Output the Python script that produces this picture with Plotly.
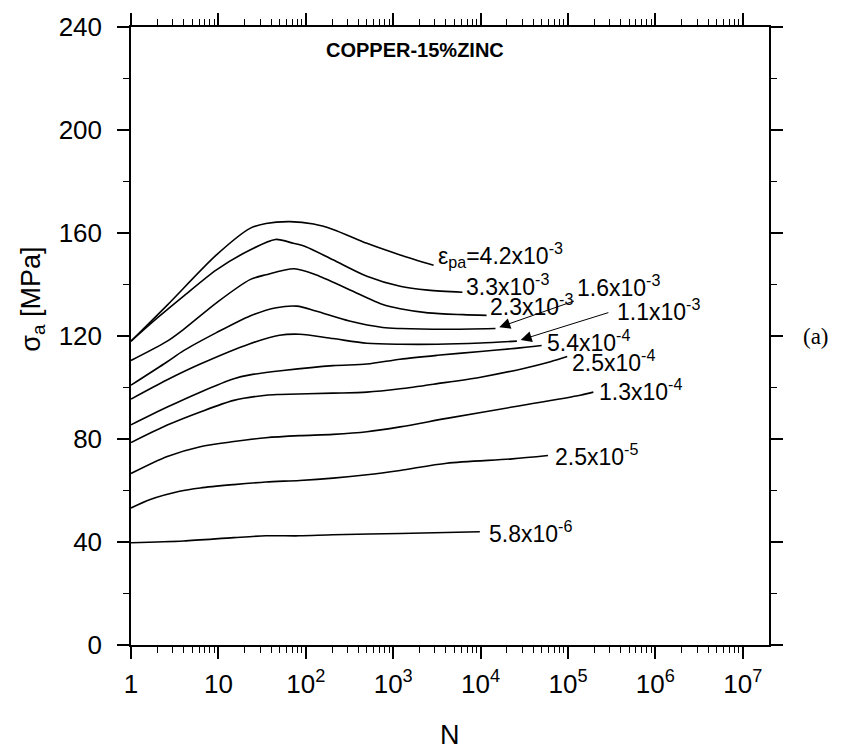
import math
import plotly.graph_objects as go

# Cyclic stress amplitude vs. number of cycles, Cu-15%Zn, one curve per plastic strain amplitude
strain_labels = ["ε<sub>pa</sub>=4.2x10<sup>-3</sup>", "3.3x10<sup>-3</sup>", "2.3x10<sup>-3</sup>",
                 "1.6x10<sup>-3</sup>", "1.1x10<sup>-3</sup>", "5.4x10<sup>-4</sup>",
                 "2.5x10<sup>-4</sup>", "1.3x10<sup>-4</sup>", "2.5x10<sup>-5</sup>", "5.8x10<sup>-6</sup>"]

n_42e3 = [1, 2.6, 9.5, 23, 35, 66, 123, 205, 500, 1200, 2900]
s_42e3 = [118, 132, 151.5, 161.8, 163.7, 164.4, 163.5, 161.4, 156, 151.5, 147.5]

n_33e3 = [1, 2, 4, 9.5, 23, 45, 72, 100, 205, 500, 1200, 2500, 6200]
s_33e3 = [118, 127, 135.5, 145.7, 153.4, 157.5, 156, 154.7, 149.6, 143.2, 139.3, 137.8, 137]

n_23e3 = [1, 2.6, 4, 9.5, 23, 35, 74, 130, 316, 760, 1200, 2500, 6300, 11700]
s_23e3 = [110.5, 118, 122.6, 132.9, 141.9, 143.8, 146.1, 143.8, 138, 132.2, 130.6, 129, 128.3, 128]

n_16e3 = [1, 2.6, 4, 9.5, 23, 46, 79, 130, 316, 760, 1200, 4000, 14800]
s_16e3 = [100.9, 110, 114.3, 121.3, 127.8, 131, 131.6, 129.7, 125.8, 123.3, 122.9, 122.6, 122.9]

n_11e3 = [1, 2.6, 6.2, 23, 50, 85, 205, 500, 1200, 3200, 10000, 26000]
s_11e3 = [95.5, 103, 109.1, 117, 120.3, 120.7, 119, 117.2, 116.8, 116.8, 117.3, 118]

n_54e4 = [1, 2.6, 6.2, 15, 23, 55, 205, 500, 1200, 3200, 10000, 25000, 50000]
s_54e4 = [85.5, 92.4, 98.2, 103.4, 104.9, 106.6, 108.5, 109.1, 111, 112.5, 114, 115.2, 116.3]

n_25e4 = [1, 2.6, 6.2, 15, 35, 50, 205, 500, 1200, 3200, 10000, 32000, 63000, 98000]
s_25e4 = [78.6, 85.4, 90.5, 95, 97, 97.3, 97.8, 98.2, 99.5, 101.5, 104, 107.5, 110, 112]

n_13e4 = [1, 2.6, 6.2, 15, 35, 85, 205, 500, 1200, 4100, 23000, 138000, 195000]
s_13e4 = [66.6, 73.2, 77, 79, 80.5, 81.3, 81.8, 82.8, 84.7, 88, 92.4, 97, 98.2]

n_25e5 = [1, 1.66, 3.6, 6.2, 15, 35, 85, 205, 500, 1200, 4100, 23000, 59000]
s_25e5 = [53.2, 56.5, 59.7, 61, 62.3, 63.3, 63.9, 64.8, 66.1, 67.8, 70.6, 72.3, 73.6]

n_58e6 = [1, 4, 15, 35, 85, 205, 1200, 9800]
s_58e6 = [39.7, 40.4, 41.7, 42.4, 42.4, 42.8, 43.3, 44]

curves = [(n_42e3, s_42e3), (n_33e3, s_33e3), (n_23e3, s_23e3), (n_16e3, s_16e3),
          (n_11e3, s_11e3), (n_54e4, s_54e4), (n_25e4, s_25e4), (n_13e4, s_13e4),
          (n_25e5, s_25e5), (n_58e6, s_58e6)]

# label offsets (px) from each curve's last point; None -> label placed with an arrow
label_shift = [(2, 10), (2, 7), (1, 10), None, None, (3, 5), (3, -4), (4, 2), (5, 0), (7, 0)]
arrow_tail = {3: (80, -28), 4: (93, -29)}
arrow_label_shift = {3: (80, 43), 4: (98, 31)}

x_tickvals = [1, 10, 100, 1e3, 1e4, 1e5, 1e6, 1e7]
x_ticktext = ["1", "10", "10<sup>2</sup>", "10<sup>3</sup>", "10<sup>4</sup>",
              "10<sup>5</sup>", "10<sup>6</sup>", "10<sup>7</sup>"]
x_minor = [m * 10 ** k for k in range(0, 7) for m in range(2, 10)] + [2e7]

fig = go.Figure()
for n, s in curves:
    fig.add_trace(go.Scatter(x=n, y=s, mode="lines",
                             line=dict(color="black", width=1.6, shape="spline", smoothing=0.8),
                             showlegend=False, hoverinfo="skip"))

font_main = "Liberation Sans, Arial, sans-serif"
annotations = []
for i, ((n, s), txt) in enumerate(zip(curves, strain_labels)):
    xe, ye = math.log10(n[-1]), s[-1]
    if label_shift[i] is not None:
        dx, dy = label_shift[i]
    else:
        dx, dy = arrow_label_shift[i]
        ax, ay = arrow_tail[i]
        annotations.append(dict(x=xe, y=ye, xref="x", yref="y", text="", showarrow=True,
                                ax=ax, ay=ay, arrowhead=2, arrowsize=2.2, arrowwidth=1,
                                arrowcolor="black", standoff=4))
    annotations.append(dict(x=xe, y=ye, xref="x", yref="y", text=txt, showarrow=False,
                            xanchor="left", yanchor="middle", xshift=dx, yshift=dy,
                            font=dict(family=font_main, size=23, color="black")))

annotations += [
    dict(x=0.445, y=0.962, xref="paper", yref="paper", text="<b>COPPER-15%ZINC</b>",
         showarrow=False, xanchor="center", yanchor="middle",
         font=dict(family="Liberation Sans Narrow, Arial Narrow, Liberation Sans", size=20, color="black")),
    dict(x=-0.154, y=0.56, xref="paper", yref="paper", text="σ<sub>a</sub> [MPa]", textangle=-90,
         showarrow=False, xanchor="center", yanchor="middle",
         font=dict(family=font_main, size=27, color="black")),
    dict(x=0.5, y=-0.145, xref="paper", yref="paper", text="N", showarrow=False,
         xanchor="center", yanchor="middle", font=dict(family=font_main, size=27, color="black")),
    dict(x=1.05, y=0.5, xref="paper", yref="paper", text="(a)", showarrow=False,
         xanchor="left", yanchor="middle",
         font=dict(family="Liberation Serif, Times New Roman, serif", size=23, color="black")),
]

fig.update_layout(
    width=849, height=753,
    margin=dict(l=131, r=80, t=22, b=108),
    paper_bgcolor="white", plot_bgcolor="white",
    annotations=annotations,
    font=dict(family=font_main, size=26, color="black"),
)
fig.update_xaxes(type="log", range=[0, 7.3], tickvals=x_tickvals, ticktext=x_ticktext,
                 ticks="outside", ticklen=12, tickwidth=1.5, tickcolor="black",
                 showline=True, linecolor="black", linewidth=1.5, mirror="allticks",
                 showgrid=False, zeroline=False, ticklabelstandoff=3,
                 minor=dict(tickvals=x_minor, ticks="outside", ticklen=6, tickwidth=1.2,
                            tickcolor="black", showgrid=False),
                 tickfont=dict(size=26))
fig.update_yaxes(range=[0, 240], dtick=40, tick0=0,
                 ticks="outside", ticklen=12, tickwidth=1.5, tickcolor="black",
                 showline=True, linecolor="black", linewidth=1.5, mirror="allticks",
                 showgrid=False, zeroline=False, ticklabelstandoff=10,
                 minor=dict(dtick=20, ticks="outside", ticklen=6, tickwidth=1.2,
                            tickcolor="black", showgrid=False),
                 tickfont=dict(size=26))

fig.write_html("out.html")
